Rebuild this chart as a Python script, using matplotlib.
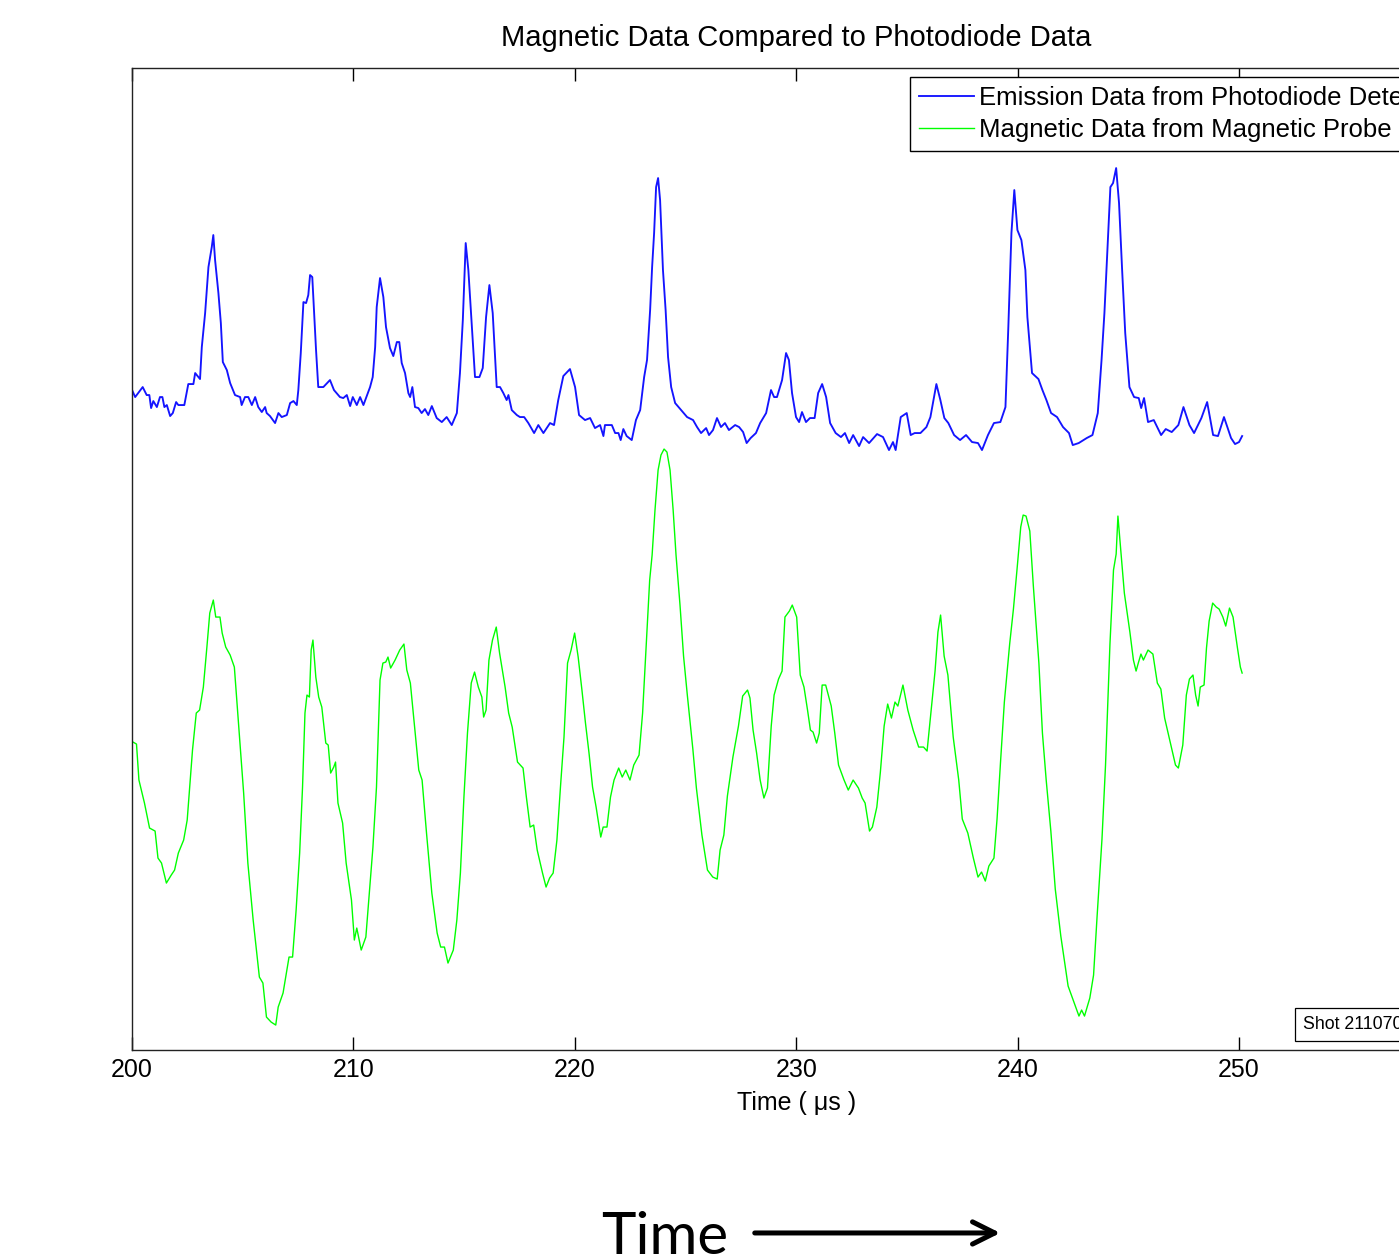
import matplotlib
matplotlib.use("Agg")
import matplotlib.pyplot as plt
from matplotlib.patches import FancyArrowPatch

plt.rcParams['font.family'] = ['Liberation Sans', 'DejaVu Sans']

# Photodiode emission trace (time in us, signal in a.u.)
t_emission = [
    200.00, 200.14, 200.48, 200.66, 200.78, 200.86, 200.96, 201.12, 201.26, 201.37,
    201.46, 201.57, 201.72, 201.84, 201.99, 202.09, 202.36, 202.54, 202.77, 202.85,
    203.07, 203.15, 203.30, 203.45, 203.60, 203.67, 203.75, 203.90, 204.01, 204.10,
    204.28, 204.43, 204.65, 204.88, 204.95, 205.10, 205.25, 205.41, 205.56, 205.70,
    205.86, 206.01, 206.08, 206.23, 206.46, 206.61, 206.76, 206.99, 207.14, 207.29,
    207.44, 207.51, 207.62, 207.74, 207.86, 207.96, 208.04, 208.14, 208.31, 208.41,
    208.64, 208.94, 209.12, 209.39, 209.54, 209.70, 209.85, 209.97, 210.15, 210.30,
    210.45, 210.75, 210.87, 210.98, 211.05, 211.20, 211.35, 211.47, 211.65, 211.80,
    211.96, 212.07, 212.18, 212.33, 212.48, 212.56, 212.66, 212.78, 212.93, 213.08,
    213.23, 213.38, 213.54, 213.76, 213.99, 214.21, 214.44, 214.67, 214.81, 214.94,
    215.07, 215.19, 215.34, 215.49, 215.69, 215.84, 215.99, 216.14, 216.29, 216.47,
    216.62, 216.77, 216.92, 217.00, 217.15, 217.38, 217.52, 217.71, 217.90, 218.16,
    218.35, 218.58, 218.88, 219.06, 219.25, 219.48, 219.78, 220.01, 220.19, 220.46,
    220.69, 220.91, 221.14, 221.29, 221.36, 221.67, 221.82, 221.97, 222.07, 222.19,
    222.34, 222.57, 222.76, 222.95, 223.13, 223.26, 223.40, 223.49, 223.58, 223.67,
    223.76, 223.85, 223.98, 224.10, 224.21, 224.35, 224.53, 224.80, 225.07, 225.34,
    225.52, 225.70, 225.93, 226.06, 226.24, 226.42, 226.60, 226.78, 226.96, 227.24,
    227.42, 227.60, 227.76, 227.94, 228.18, 228.37, 228.64, 228.86, 229.00, 229.13,
    229.36, 229.54, 229.67, 229.81, 229.99, 230.13, 230.26, 230.44, 230.62, 230.83,
    230.99, 231.17, 231.35, 231.53, 231.78, 232.02, 232.20, 232.39, 232.57, 232.84,
    233.02, 233.29, 233.65, 233.92, 234.19, 234.37, 234.49, 234.72, 234.99, 235.17,
    235.35, 235.61, 235.88, 236.06, 236.33, 236.51, 236.69, 236.87, 237.13, 237.40,
    237.67, 237.94, 238.21, 238.39, 238.66, 238.93, 239.22, 239.45, 239.58, 239.72,
    239.85, 239.99, 240.17, 240.35, 240.44, 240.65, 240.94, 241.12, 241.30, 241.51,
    241.78, 242.05, 242.32, 242.49, 242.76, 243.12, 243.38, 243.62, 243.79, 243.92,
    244.05, 244.19, 244.31, 244.45, 244.58, 244.72, 244.86, 245.05, 245.26, 245.47,
    245.58, 245.71, 245.89, 246.15, 246.48, 246.69, 246.96, 247.26, 247.49, 247.76,
    247.97, 248.30, 248.56, 248.83, 249.05, 249.32, 249.64, 249.82, 250.00, 250.14,
]
emission = [
    6.60, 6.53, 6.63, 6.55, 6.55, 6.42, 6.49, 6.43, 6.53, 6.53,
    6.43, 6.45, 6.34, 6.37, 6.48, 6.45, 6.45, 6.66, 6.66, 6.77,
    6.71, 7.03, 7.37, 7.83, 8.03, 8.15, 7.90, 7.57, 7.27, 6.88,
    6.80, 6.67, 6.55, 6.53, 6.45, 6.53, 6.53, 6.45, 6.53, 6.43,
    6.38, 6.43, 6.37, 6.34, 6.27, 6.37, 6.33, 6.35, 6.47, 6.49,
    6.45, 6.60, 6.97, 7.48, 7.47, 7.55, 7.75, 7.73, 7.00, 6.63,
    6.63, 6.70, 6.60, 6.53, 6.52, 6.55, 6.44, 6.53, 6.45, 6.53,
    6.45, 6.63, 6.73, 7.03, 7.43, 7.72, 7.53, 7.23, 7.02, 6.94,
    7.08, 7.08, 6.87, 6.77, 6.57, 6.53, 6.63, 6.43, 6.42, 6.37,
    6.41, 6.35, 6.44, 6.32, 6.28, 6.33, 6.25, 6.37, 6.77, 7.30,
    8.07, 7.80, 7.27, 6.73, 6.73, 6.82, 7.33, 7.65, 7.37, 6.63,
    6.63, 6.57, 6.50, 6.55, 6.40, 6.35, 6.33, 6.33, 6.27, 6.17,
    6.25, 6.17, 6.27, 6.25, 6.50, 6.74, 6.81, 6.63, 6.35, 6.30,
    6.32, 6.22, 6.25, 6.14, 6.25, 6.25, 6.17, 6.17, 6.10, 6.21,
    6.14, 6.10, 6.30, 6.40, 6.73, 6.90, 7.40, 7.83, 8.17, 8.63,
    8.72, 8.50, 7.80, 7.40, 6.93, 6.63, 6.47, 6.40, 6.33, 6.30,
    6.23, 6.17, 6.22, 6.15, 6.20, 6.32, 6.23, 6.27, 6.20, 6.25,
    6.23, 6.18, 6.07, 6.12, 6.17, 6.27, 6.37, 6.60, 6.53, 6.53,
    6.70, 6.97, 6.90, 6.57, 6.33, 6.28, 6.38, 6.28, 6.32, 6.32,
    6.57, 6.66, 6.53, 6.27, 6.17, 6.13, 6.17, 6.07, 6.15, 6.04,
    6.13, 6.07, 6.16, 6.13, 6.00, 6.08, 6.00, 6.33, 6.37, 6.15,
    6.17, 6.17, 6.23, 6.33, 6.66, 6.50, 6.32, 6.27, 6.15, 6.10,
    6.15, 6.08, 6.07, 6.00, 6.15, 6.27, 6.28, 6.43, 7.23, 8.17,
    8.60, 8.20, 8.10, 7.80, 7.33, 6.77, 6.71, 6.60, 6.50, 6.37,
    6.33, 6.23, 6.17, 6.05, 6.07, 6.12, 6.15, 6.37, 6.90, 7.37,
    7.97, 8.63, 8.67, 8.82, 8.47, 7.80, 7.17, 6.63, 6.53, 6.52,
    6.42, 6.52, 6.28, 6.30, 6.15, 6.21, 6.18, 6.25, 6.43, 6.25,
    6.17, 6.32, 6.48, 6.15, 6.14, 6.33, 6.12, 6.06, 6.08, 6.14,
]

# Magnetic probe trace (time in us, signal in a.u.)
t_magnetic = [
    200.04, 200.20, 200.31, 200.56, 200.79, 201.04, 201.17, 201.33, 201.55, 201.77,
    201.92, 202.09, 202.33, 202.49, 202.73, 202.90, 203.05, 203.22, 203.38, 203.51,
    203.67, 203.78, 203.97, 204.07, 204.23, 204.43, 204.62, 204.83, 205.04, 205.23,
    205.47, 205.75, 205.91, 206.07, 206.28, 206.49, 206.60, 206.82, 207.09, 207.25,
    207.41, 207.57, 207.70, 207.81, 207.90, 208.01, 208.09, 208.17, 208.30, 208.43,
    208.57, 208.75, 208.86, 208.97, 209.11, 209.19, 209.30, 209.51, 209.67, 209.91,
    210.04, 210.15, 210.35, 210.56, 210.69, 210.88, 211.04, 211.20, 211.33, 211.46,
    211.56, 211.68, 211.88, 212.09, 212.28, 212.41, 212.57, 212.73, 212.95, 213.10,
    213.30, 213.54, 213.78, 213.94, 214.11, 214.27, 214.51, 214.67, 214.83, 214.99,
    215.15, 215.32, 215.47, 215.64, 215.80, 215.88, 215.99, 216.12, 216.28, 216.45,
    216.60, 216.85, 217.01, 217.17, 217.41, 217.66, 217.81, 217.98, 218.14, 218.30,
    218.54, 218.70, 218.86, 219.02, 219.19, 219.35, 219.51, 219.67, 219.83, 219.99,
    220.15, 220.32, 220.48, 220.64, 220.80, 220.96, 221.17, 221.28, 221.45, 221.61,
    221.77, 221.98, 222.14, 222.30, 222.49, 222.66, 222.90, 223.06, 223.22, 223.38,
    223.49, 223.62, 223.76, 223.89, 224.03, 224.16, 224.30, 224.44, 224.57, 224.75,
    224.91, 225.08, 225.33, 225.49, 225.74, 225.99, 226.23, 226.43, 226.56, 226.73,
    226.89, 227.14, 227.39, 227.58, 227.80, 227.91, 228.05, 228.21, 228.37, 228.54,
    228.70, 228.87, 229.00, 229.20, 229.36, 229.49, 229.69, 229.82, 230.02, 230.18,
    230.35, 230.51, 230.64, 230.76, 230.92, 231.04, 231.17, 231.33, 231.58, 231.74,
    231.91, 232.16, 232.35, 232.57, 232.81, 232.98, 233.11, 233.31, 233.44, 233.64,
    233.80, 233.97, 234.13, 234.30, 234.46, 234.59, 234.82, 235.04, 235.28, 235.53,
    235.75, 235.91, 236.11, 236.27, 236.40, 236.52, 236.68, 236.85, 237.09, 237.34,
    237.50, 237.75, 238.00, 238.21, 238.37, 238.54, 238.70, 238.93, 239.07, 239.23,
    239.40, 239.64, 239.81, 239.97, 240.14, 240.25, 240.38, 240.55, 240.71, 240.96,
    241.12, 241.29, 241.50, 241.70, 241.95, 242.28, 242.61, 242.77, 242.89, 243.02,
    243.26, 243.43, 243.59, 243.81, 243.97, 244.17, 244.33, 244.45, 244.53, 244.63,
    244.82, 245.07, 245.23, 245.35, 245.45, 245.57, 245.68, 245.89, 246.11, 246.31,
    246.47, 246.64, 246.88, 247.13, 247.26, 247.46, 247.62, 247.76, 247.92, 248.04,
    248.15, 248.25, 248.42, 248.53, 248.65, 248.81, 248.97, 249.10, 249.27, 249.40,
    249.57, 249.73, 249.93, 250.06, 250.14,
]
magnetic = [
    3.08, 3.06, 2.70, 2.47, 2.22, 2.19, 1.92, 1.87, 1.67, 1.75,
    1.80, 1.97, 2.10, 2.30, 3.00, 3.37, 3.40, 3.63, 4.03, 4.37,
    4.50, 4.33, 4.33, 4.17, 4.03, 3.95, 3.83, 3.20, 2.57, 1.87,
    1.30, 0.73, 0.67, 0.33, 0.28, 0.25, 0.43, 0.57, 0.93, 0.93,
    1.40, 1.97, 2.63, 3.37, 3.55, 3.53, 4.00, 4.10, 3.73, 3.53,
    3.43, 3.07, 3.05, 2.77, 2.83, 2.88, 2.47, 2.27, 1.87, 1.50,
    1.10, 1.22, 1.00, 1.13, 1.50, 2.03, 2.63, 3.70, 3.87, 3.88,
    3.93, 3.82, 3.90, 4.00, 4.06, 3.80, 3.67, 3.30, 2.80, 2.70,
    2.17, 1.57, 1.17, 1.03, 1.03, 0.87, 1.00, 1.30, 1.77, 2.53,
    3.17, 3.67, 3.78, 3.63, 3.53, 3.33, 3.40, 3.90, 4.10, 4.23,
    3.97, 3.63, 3.37, 3.23, 2.88, 2.82, 2.53, 2.23, 2.25, 2.00,
    1.77, 1.63, 1.72, 1.77, 2.10, 2.63, 3.13, 3.87, 4.00, 4.17,
    3.93, 3.60, 3.27, 2.97, 2.63, 2.43, 2.13, 2.23, 2.23, 2.53,
    2.70, 2.82, 2.73, 2.80, 2.70, 2.85, 2.95, 3.37, 4.03, 4.70,
    4.95, 5.40, 5.80, 5.95, 6.01, 5.98, 5.80, 5.40, 4.95, 4.45,
    3.94, 3.55, 3.01, 2.62, 2.15, 1.80, 1.73, 1.71, 2.00, 2.15,
    2.54, 2.93, 3.24, 3.54, 3.60, 3.52, 3.20, 2.97, 2.70, 2.52,
    2.62, 3.24, 3.55, 3.71, 3.79, 4.33, 4.39, 4.45, 4.33, 3.75,
    3.63, 3.40, 3.20, 3.18, 3.07, 3.17, 3.65, 3.65, 3.44, 3.17,
    2.85, 2.70, 2.60, 2.70, 2.62, 2.52, 2.47, 2.19, 2.23, 2.43,
    2.78, 3.24, 3.46, 3.32, 3.48, 3.44, 3.65, 3.40, 3.20, 3.03,
    3.03, 2.99, 3.44, 3.79, 4.18, 4.35, 3.94, 3.75, 3.13, 2.70,
    2.31, 2.17, 1.92, 1.73, 1.78, 1.69, 1.84, 1.92, 2.31, 2.89,
    3.48, 4.06, 4.41, 4.80, 5.23, 5.35, 5.34, 5.19, 4.64, 3.87,
    3.17, 2.70, 2.19, 1.61, 1.14, 0.64, 0.44, 0.34, 0.40, 0.34,
    0.52, 0.75, 1.34, 2.11, 2.85, 4.06, 4.80, 4.96, 5.34, 5.07,
    4.57, 4.18, 3.90, 3.79, 3.87, 3.96, 3.90, 4.00, 3.96, 3.67,
    3.61, 3.32, 3.09, 2.85, 2.82, 3.05, 3.55, 3.71, 3.75, 3.55,
    3.44, 3.63, 3.65, 4.02, 4.29, 4.47, 4.43, 4.41, 4.33, 4.24,
    4.42, 4.33, 4.02, 3.83, 3.77,
]

x_ticks = [200, 210, 220, 230, 240, 250, 260]
x_tick_labels = ['200', '210', '220', '230', '240', '250', '']
series_labels = ['Emission Data from Photodiode Detector',
                 'Magnetic Data from Magnetic Probe']

fig = plt.figure(figsize=(13.99, 12.58), dpi=100)
# axes run out past the right edge of the figure (x up to 260 us)
ax = fig.add_axes([0.0944, 0.1653, 0.9495, 0.7806])

ax.plot(t_emission, emission, color='#1414ff', lw=1.35, label=series_labels[0])
ax.plot(t_magnetic, magnetic, color='#00ff00', lw=1.0, label=series_labels[1])

ax.set_xlim(200, 260)
ax.set_ylim(0, 9.82)
ax.set_xticks(x_ticks)
ax.set_xticklabels(x_tick_labels)
ax.set_yticks([])
ax.tick_params(axis='x', direction='in', length=9.5, width=1, top=True,
               labelsize=18, pad=5.5, colors='#000000')
for sp in ax.spines.values():
    sp.set_color('#222222')
    sp.set_linewidth(1.0)

ax.set_title('Magnetic Data Compared to Photodiode Data', fontsize=21, pad=16)
ax.set_xlabel('Time ( μs )', fontsize=18, labelpad=7)

leg = ax.legend(loc='upper left', bbox_to_anchor=(0.5857, 0.9908),
                fontsize=18.5, handlelength=2.15, handletextpad=0.2,
                borderpad=0.34, labelspacing=0.32, borderaxespad=0,
                fancybox=False, framealpha=1)
leg.get_frame().set_edgecolor('#000000')
leg.get_frame().set_linewidth(1.0)

ax.text(0.8812, 0.0265, 'Shot 2110706', transform=ax.transAxes, fontsize=12.8,
        va='center', ha='left',
        bbox=dict(boxstyle='square,pad=0.45', fc='white', ec='black', lw=0.9))

# "Time" with a right-pointing arrow below the plot
fig.text(0.4296, 0.003, 'Time', fontsize=42, family=['Lato', 'DejaVu Sans'],
         ha='left', va='baseline')
arrow = FancyArrowPatch((0.5375, 0.0199), (0.7170, 0.0199),
                        transform=fig.transFigure, arrowstyle='->',
                        mutation_scale=40, lw=3.6, color='black')
fig.add_artist(arrow)

fig.savefig('out.png', dpi=100)
